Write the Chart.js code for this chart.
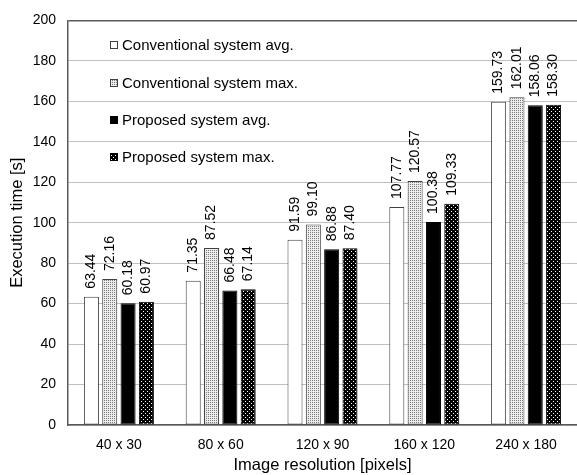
<!DOCTYPE html>
<html>
<head>
<meta charset="utf-8">
<script src="https://cdn.jsdelivr.net/npm/chart.js@4.4.1/dist/chart.umd.min.js"></script>
<style>
  html, body { margin: 0; padding: 0; background: #fff; }
  #wrap { width: 577px; height: 475px; position: relative; }
</style>
</head>
<body>
<div id="wrap"><canvas id="execChart"></canvas></div>
<script>
// resolutions on the x axis
const resolutions = ['40 x 30', '80 x 60', '120 x 90', '160 x 120', '240 x 180'];

// execution times in seconds
const convAvg = [63.44, 71.35, 91.59, 107.77, 159.73];
const convMax = [72.16, 87.52, 99.10, 120.57, 162.01];
const propAvg = [60.18, 66.48, 86.88, 100.38, 158.06];
const propMax = [60.97, 67.14, 87.40, 109.33, 158.30];

const seriesNames = [
    'Conventional system avg.',
    'Conventional system max.',
    'Proposed system avg.',
    'Proposed system max.'
];

const yTicks = [0, 20, 40, 60, 80, 100, 120, 140, 160, 180, 200];

const FONT = '"Liberation Sans", Arial, sans-serif';

// small tiled patterns for the hatched bars
function makePattern(size, bg, fg, dots) {
    const c = document.createElement('canvas');
    c.width = size;
    c.height = size;
    const g = c.getContext('2d');
    g.fillStyle = bg;
    g.fillRect(0, 0, size, size);
    g.fillStyle = fg;
    dots.forEach(d => g.fillRect(d[0], d[1], 1, 1));
    return g.createPattern(c, 'repeat');
}

const ctx = document.getElementById('execChart').getContext('2d');
const greyDots = makePattern(2, '#ededed', '#7a7a7a', [[0, 0]]);
const blackDots = makePattern(4, '#000000', '#ffffff', [[1, 1], [3, 3]]);

const fills = ['#ffffff', greyDots, '#000000', blackDots];
const borders = ['#404040', '#404040', '#000000', '#000000'];

// value labels, rotated, above every bar
const valueLabels = {
    id: 'valueLabels',
    afterDatasetsDraw(chart) {
        const c = chart.ctx;
        c.save();
        c.font = '14px ' + FONT;
        c.fillStyle = '#000';
        c.textAlign = 'left';
        c.textBaseline = 'middle';
        chart.data.datasets.forEach((ds, i) => {
            const meta = chart.getDatasetMeta(i);
            meta.data.forEach((bar, j) => {
                c.save();
                c.translate(bar.x, bar.y - 8);
                c.rotate(-Math.PI / 2);
                c.fillText(ds.data[j].toFixed(2), 0, 0);
                c.restore();
            });
        });
        c.restore();
    }
};

// legend drawn inside the plot, one entry per row
const innerLegend = {
    id: 'innerLegend',
    afterDatasetsDraw(chart) {
        const c = chart.ctx;
        const area = chart.chartArea;
        const rowsY = [45, 83, 120, 157];
        c.save();
        c.font = '15px ' + FONT;
        c.textBaseline = 'middle';
        c.textAlign = 'left';
        seriesNames.forEach((name, i) => {
            const y = rowsY[i];
            const x = area.left + 42;
            c.fillStyle = '#ffffff';
            c.fillRect(x - 1, y - 7, 185, 15);
            c.fillStyle = fills[i];
            c.fillRect(x, y - 4, 8, 8);
            c.strokeStyle = borders[i];
            c.lineWidth = 1;
            c.strokeRect(x + 0.5, y - 3.5, 7, 7);
            c.fillStyle = '#000';
            c.fillText(name, x + 12, y + 1);
        });
        c.restore();
    }
};

new Chart(ctx, {
    type: 'bar',
    data: {
        labels: resolutions,
        datasets: [convAvg, convMax, propAvg, propMax].map((vals, i) => ({
            label: seriesNames[i],
            data: vals,
            backgroundColor: fills[i],
            borderColor: borders[i],
            borderWidth: 1,
            borderSkipped: false,
            barPercentage: 0.82,
            categoryPercentage: 0.72
        }))
    },
    options: {
        responsive: true,
        maintainAspectRatio: false,
        animation: false,
        layout: {
            padding: { top: 16, right: 0, left: 8, bottom: 0 }
        },
        plugins: {
            legend: { display: false },
            tooltip: { enabled: false }
        },
        scales: {
            x: {
                grid: { display: false, drawTicks: false },
                border: { color: '#595959', width: 1.5 },
                ticks: {
                    font: { size: 14, family: FONT },
                    color: '#000',
                    padding: 12
                },
                title: {
                    display: true,
                    text: 'Image resolution [pixels]',
                    font: { size: 16.5, family: FONT },
                    color: '#000',
                    padding: { top: 2, bottom: 0 }
                },
                afterFit(scale) { scale.height = 50; }
            },
            y: {
                min: 0,
                max: 200,
                afterBuildTicks(scale) {
                    scale.ticks = yTicks.map(v => ({ value: v }));
                },
                grid: {
                    drawTicks: false,
                    color: c => c.tick && c.tick.value === 200 ? '#595959' : '#c0c0c0',
                    lineWidth: c => c.tick && c.tick.value === 200 ? 1.5 : 1
                },
                border: { color: '#595959', width: 1.5 },
                ticks: {
                    font: { size: 14, family: FONT },
                    color: '#000',
                    padding: 12
                },
                title: {
                    display: true,
                    text: 'Execution time [s]',
                    font: { size: 16.5, family: FONT },
                    color: '#000',
                    padding: { top: 0, bottom: 2 }
                },
                afterFit(scale) { scale.width = 60; }
            }
        }
    },
    plugins: [valueLabels, innerLegend]
});
</script>
</body>
</html>
